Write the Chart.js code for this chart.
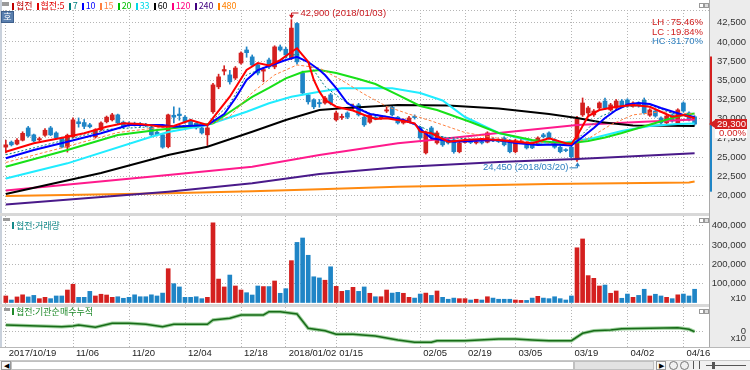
<!DOCTYPE html>
<html><head><meta charset="utf-8"><title>협전</title>
<script src="https://cdn.jsdelivr.net/npm/chart.js@4.4.1/dist/chart.umd.min.js"></script>
<style>
*{box-sizing:border-box}
html,body{margin:0;padding:0;width:750px;height:370px;overflow:hidden;background:#fff}
#root{position:relative;width:750px;height:370px;font-family:"Liberation Sans",Arial,sans-serif}
#root canvas{position:absolute;left:0}
.a{position:absolute;white-space:nowrap}
.k{font-family:"Noto Sans CJK KR","Liberation Sans",sans-serif;font-size:9px;line-height:10px}
.lg span{display:inline-block;margin-right:4px}
.lg i{display:inline-block;width:2px;height:7px;margin-right:2px;vertical-align:-1px}
</style></head><body>
<div id="root">
  <div class="a" style="left:709px;top:0;width:41px;height:347px;background:#ececec;border-left:1px solid #a9a9a9"></div>
  <div class="a" style="left:0;top:0;width:2px;height:347px;background:#c9d1dc"></div>
  <canvas id="c1" width="750" height="213" style="top:0"></canvas>
  <div class="a" style="left:0;top:213px;width:709px;height:3px;background:#d8d8d8"></div>
  <canvas id="c2" width="750" height="88" style="top:216px"></canvas>
  <div class="a" style="left:0;top:304px;width:709px;height:3px;background:#d8d8d8"></div>
  <canvas id="c3" width="750" height="54" style="top:307px"></canvas>
  <div class="a" style="left:0;top:347px;width:750px;height:1px;background:#b8b8b8"></div>

  <!-- top legend -->
  <div class="a" style="left:2px;top:2px;width:7px;height:4px;background:#9a9a9a"></div>
  <div class="a k lg" id="legend" style="left:12px;top:1px"></div>
  <div class="a" style="left:1px;top:11px;width:13px;height:12px;background:#5a7fae;border:1px solid #3d5f8c;color:#fff;font:9px 'Noto Sans CJK KR';line-height:10px;text-align:center">호</div>
  <div class="a" style="left:699px;top:3px;width:5px;height:5px;border:1px solid #999;background:#fff"></div>
  <div class="a" style="left:704px;top:3px;width:5px;height:5px;border:1px solid #999;background:#ddd"></div>

  <!-- volume pane label -->
  <div class="a" style="left:3px;top:218px;width:7px;height:3px;background:#9a9a9a"></div>
  <div class="a k" style="left:12px;top:221px;color:#138a8a"><i style="display:inline-block;width:2px;height:7px;background:#138a8a;margin-right:2px"></i>협전:거래량</div>
  <div class="a" style="left:699px;top:218px;width:5px;height:5px;border:1px solid #999;background:#fff"></div>
  <div class="a" style="left:704px;top:218px;width:5px;height:5px;border:1px solid #999;background:#ddd"></div>

  <!-- third pane label -->
  <div class="a" style="left:4px;top:308px;width:6px;height:3px;background:#9a9a9a"></div>
  <div class="a k" style="left:12px;top:307px;color:#1f8a2a"><i style="display:inline-block;width:2px;height:7px;background:#1f8a2a;margin-right:2px"></i>협전:기관순매수누적</div>
  <div class="a" style="left:699px;top:309px;width:5px;height:5px;border:1px solid #999;background:#fff"></div>
  <div class="a" style="left:704px;top:309px;width:5px;height:5px;border:1px solid #999;background:#ddd"></div>

  <!-- scrollbar -->
  <div class="a" style="left:0;top:360px;width:750px;height:10px;background:#f0f0f0;border-top:1px solid #c8c8c8"></div>
  <div class="a" style="left:1px;top:361px;width:10px;height:9px;border:1px solid #999;background:#fafafa;font-size:7px;line-height:7px;text-align:center">◀</div>
  <div class="a" style="left:11px;top:361px;width:563px;height:9px;background:#fff;border:1px solid #c0c0c0"></div>
  <div class="a" style="left:574px;top:361px;width:80px;height:9px;background:#e2e2e2;border:1px solid #c0c0c0"></div>
  <div class="a" style="left:656px;top:361px;width:10px;height:9px;border:1px solid #999;background:#fafafa;font-size:7px;line-height:7px;text-align:center">▶</div>
  <div class="a" style="left:669px;top:361px;width:9px;height:9px;border:1px solid #777;border-radius:5px"></div>
  <div class="a" style="left:680px;top:361px;width:9px;height:9px;border:1px solid #777;border-radius:5px"></div>
  <div class="a" style="left:693px;top:361px;width:7px;height:8px;border-left:1px solid #555;border-right:1px solid #555"></div>
  <div class="a" style="left:706px;top:365px;width:40px;height:1px;background:#555"></div>
  <div class="a" style="left:712px;top:362px;width:3px;height:7px;background:#555"></div>
</div>
<script>
// ---------- categories ----------
const tradingDays = {
  '2017/10':[19,20,23,24,25,26,27,30,31],
  '2017/11':[1,2,3,6,7,8,9,10,13,14,15,16,17,20,21,22,23,24,27,28,29,30],
  '2017/12':[1,4,5,6,7,8,11,12,13,14,15,18,19,20,21,22,26,27,28],
  '2018/01':[2,3,4,5,8,9,10,11,12,15,16,17,18,19,22,23,24,25,26,29,30,31],
  '2018/02':[1,2,5,6,7,8,9,12,13,14,19,20,21,22,23,26,27,28],
  '2018/03':[2,5,6,7,8,9,12,13,14,15,16,19,20,21,22,23,26,27,28,29,30],
  '2018/04':[2,3,4,5,6,9,10,11,12,13,16,17,18]
};
const dates = [];
for (const m in tradingDays) tradingDays[m].forEach(d => dates.push(m + '/' + String(d).padStart(2,'0')));
const labels = dates.concat(['']);            // one empty slot of right margin
const xTickDates = ['2017/10/19','2017/11/06','2017/11/20','2017/12/04','2017/12/18','2018/01/02','2018/01/15',
                    '2018/02/05','2018/02/19','2018/03/05','2018/03/19','2018/04/02','2018/04/16'];
const xTickText  = ['2017/10/19','11/06','11/20','12/04','12/18','2018/01/02','01/15','02/05','02/19','03/05','03/19','04/02','04/16'];
const priceTicks = [20000,22500,25000,27500,30000,32500,35000,37500,40000,42500];
const volTicks = [100000,200000,300000,400000];
const instTicks = [0];

// ---------- price (OHLC) ----------
const open = [26300,26950,26700,27200,28800,27900,27250,27850,28800,28150, 27500,26300,27600,29600,29500,29200,27650,28550,29600,29850,
 30500,29550,29400,29400,29250,29200,28900,28250,27900,26350, 30450,30600,30200,29800,29400,28800,27900,30900,34150,36200,
 35700,35300,37250,38950,38050,37000,36200,37650,36750,39350, 39050,37900,42400,35950,33100,32450,32100,32050,33100,29850,
 30150,30750,31400,31800,30200,29550,30200,30100,31000,31500, 30200,29450,29600,30300,28900,25550,28800,26850,27500,27250,
 27250,25700,26900,27000,26850,27000,26950,27350,27250,27500, 27200,25700,26950,26550,26850,26600,27900,28150,27250,26300,
 25950,26300,24650,30500,30750,30500,31400,32300,31150,31400, 32300,32450,31650,32050,32400,30450,31000,30100,29450,30500,
 29450,32050,30750,30250];
const high = [27200,27100,27400,28300,29000,28000,27600,28700,29000,28300, 27600,28000,30100,30100,29900,29400,28700,29600,30350,30700,
 30600,29700,29600,29550,29500,29400,29000,28400,28000,30600, 31550,31400,30400,29950,29500,28900,29000,34600,35800,36900,
 36300,36800,38700,39350,38300,37200,36700,37900,39500,39600, 39300,42900,42500,36200,33300,32600,32500,32900,33300,31000,
 30600,30900,31900,32000,30350,30600,30400,30400,31500,31700, 30300,30000,30300,30500,29000,28400,29000,28400,27700,27400,
 27400,27000,27400,27200,27200,27150,28300,27500,27400,27650, 27300,27350,27300,26700,27000,27650,28100,28300,27400,26450,
 26100,26450,30300,32700,31600,31200,32200,32700,32000,32500, 32500,32600,32200,32200,32700,31300,31200,30250,30500,30650,
 31300,32200,30900,30400];
const low = [25550,26450,26600,27100,27600,27000,27100,27700,27800,27400, 26200,25650,27500,28900,28700,28800,27500,28400,29450,29700,
 29350,28850,29000,29050,28950,28950,27800,27750,26150,26200, 29450,29800,29400,29100,28650,28000,26500,30700,33900,35700,
 34500,35100,37100,38000,36850,35700,34800,36500,36500,38800, 38000,37700,37100,33100,31900,31300,31500,31900,31800,29700,
 29900,30000,31200,30350,29000,29400,29850,29900,30800,30350, 29300,29300,29500,29950,27300,25400,27400,26700,26400,26700,
 25500,25550,26800,26750,26700,26700,26850,27000,26900,26450, 25550,25550,26800,26050,26100,26500,27500,27300,26150,25550,
 25700,24900,24450,30300,30500,30300,31200,31200,31000,31200, 31500,31500,31500,31500,30600,30300,30200,29300,29300,29550,
 29300,30850,29700,29150];
const close = [26600,26600,27200,28100,27750,27100,27400,28500,27900,27500, 26300,27850,29850,29350,29000,28950,28550,29450,30200,30500,
 29450,28950,29150,29200,29200,29100,27900,27900,26300,30500, 30200,30400,29550,29200,28800,28150,28800,34400,35450,36400,
 34800,36600,38550,38600,37000,35950,36400,36750,39350,38950, 38300,41800,37400,33350,32200,31550,31950,32700,32050,30750,
 30300,30200,31550,30500,29200,30500,30050,30250,31150,30500, 29450,29850,30100,30150,27500,28250,27600,28150,26600,26850,
 25700,26850,27200,26900,27000,26850,28150,27200,27050,26600, 25700,27200,27100,26200,26200,27500,27650,27500,26300,25700,
 25850,25050,30100,32050,31400,31000,32050,31400,31800,32300, 31650,31650,32050,31650,30750,31150,30350,29450,30350,29700,
 31150,31000,29850,29300];

// ---------- moving averages: [day index, value] ----------
const ma5 = [[0,25700],[5,26800],[11,27650],[14,28100],[18,28950],[21,29400],[24,29300],[28,28950],[30,29050],[33,29830],[36,29180],
 [40,32870],[43,36340],[45,37250],[47,36930],[49,37640],[51,38680],[52,39170],[53,38290],[54,37420],[55,35040],[56,33520],[57,32440],
 [59,31560],[62,31070],[64,30480],[66,29960],[68,30050],[71,29700],[73,29400],[74,28310],[76,28100],[79,27010],[82,27230],[85,27360],
 [88,27230],[91,27010],[94,26800],[97,27450],[100,26800],[101,26710],[102,27750],[103,29050],[104,30350],[106,31130],[109,31560],
 [112,31780],[115,31560],[117,30910],[119,30260],[121,30480],[123,30050]];
const ma7 = [[0,25300],[11,27300],[18,28600],[28,29050],[36,29150],[40,31900],[43,35700],[47,36900],[51,38300],[53,38350],[55,36300],
 [57,34200],[60,32500],[65,30700],[70,30000],[74,29000],[78,27600],[85,27250],[95,26700],[101,26550],[103,28000],[106,30200],[110,31500],
 [115,31800],[119,30700],[123,30100]];
const ma10 = [[0,24850],[5,25930],[11,27010],[17,28100],[22,29180],[28,29180],[30,28960],[36,29180],[39,30610],[41,32660],[43,35040],
 [45,36340],[47,36860],[50,37640],[52,38070],[54,37380],[56,36340],[57,35690],[59,33990],[61,32010],[63,31270],[65,30610],[68,30260],
 [71,29830],[73,29310],[76,27450],[80,27010],[85,27160],[88,27230],[91,26840],[95,26580],[98,26640],[101,26510],[103,27620],[105,28790],
 [107,30090],[109,31130],[111,31850],[113,32050],[115,31920],[117,31390],[119,30940],[121,30480],[123,30220]];
const ma15 = [[0,24300],[11,26400],[20,28200],[28,28900],[36,29150],[40,30300],[44,33400],[48,35700],[52,37000],[56,36600],[60,35000],
 [64,33200],[68,31600],[72,30600],[76,29700],[82,28200],[90,27200],[100,26650],[104,27400],[108,29200],[112,30500],[117,30900],[123,30600]];
const ma20 = [[0,23750],[11,25930],[20,27880],[27,28530],[35,29180],[37,29400],[40,30870],[44,32830],[47,34000],[50,35260],[53,36080],
 [56,36340],[59,35950],[63,35170],[66,34520],[70,33090],[74,31660],[77,31130],[80,30350],[83,29570],[88,28140],[94,27230],[98,26900],
 [101,26840],[104,27100],[107,27550],[110,28140],[113,28790],[116,29440],[119,30090],[121,30480],[123,30680]];
const ma33 = [[0,22220],[11,24190],[26,27660],[29,28270],[36,29180],[43,30910],[47,32010],[51,32870],[56,33520],[60,33960],[69,33960],
 [74,33350],[78,32370],[82,30220],[88,28140],[95,26900],[100,26900],[105,27490],[110,28400],[115,29050],[120,29310],[123,29380]];
const ma60 = [[0,20200],[17,22930],[29,25280],[36,26360],[44,28310],[50,29830],[56,31130],[60,31350],[70,31780],[79,31720],[88,31330],
 [97,30610],[102,30090],[106,29570],[112,29120],[123,29050]];
const ma120 = [[0,20640],[29,22670],[44,23750],[56,25280],[70,26800],[76,27230],[88,28140],[102,29180],[113,29570],[123,29900]];
const ma240 = [[0,18830],[29,20500],[44,21590],[56,22800],[70,23670],[88,24360],[102,24750],[113,25150],[123,25500]];
const ma480 = [[0,19940],[29,20290],[44,20550],[56,20810],[70,21150],[97,21500],[122,21700],[123,21830]];

// ---------- volume (x10 shares) ----------
const volume = [34000,13000,29000,40000,29000,37000,20000,27000,20000,34000, 34000,65000,95000,27000,27000,58000,34000,43000,39000,27000,
 30000,22000,27000,40000,30000,30000,40000,34000,49000,176000, 98000,81000,27000,27000,30000,20000,27000,415000,122000,81000,
 143000,86000,65000,51000,39000,86000,83000,83000,112000,48000, 72000,218000,313000,336000,246000,134000,128000,116000,186000,84000,
 58000,63000,79000,58000,81000,48000,30000,30000,65000,49000, 53000,48000,27000,23000,44000,49000,37000,60000,27000,17000,
 23000,20000,20000,13000,17000,13000,30000,23000,17000,17000, 17000,13000,11000,11000,23000,32000,23000,20000,30000,20000,
 13000,34000,285000,331000,140000,126000,86000,91000,48000,60000, 22000,44000,27000,37000,69000,34000,43000,34000,27000,20000,
 40000,44000,34000,69000];

// ---------- institutional cumulative net buying (x10), read points ----------
const instCum = [[0,6700],[10,5000],[12,5700],[13,6700],[16,4400],[19,8400],[22,8400],[25,7400],[28,5000],[30,7400],[36,7400],[37,11700],
 [40,13400],[42,16700],[46,16700],[47,20000],[49,20000],[52,17700],[54,3400],[57,1000],[59,-2600],[62,-2600],[66,-4300],[70,-8300],
 [73,-10600],[76,-10600],[77,-9000],[82,-9000],[88,-7300],[91,-7300],[94,-8300],[97,-9000],[101,-9000],[103,-1600],[105,1000],
 [108,1700],[110,3000],[120,4000],[122,2400],[123,0]];

// ---------- styles ----------
const RED = '#d4201f', BLUE = '#1f85c6';
const NUMFONT = '9.5px "Liberation Sans"';
const up = i => close[i] >= open[i];
const fmt = v => v.toLocaleString('en-US');
const tickIdx = new Set(xTickDates.map(d => labels.indexOf(d)));
const AXW = 47, RIGHT_EDGE = 746;

function xAxis(show){
  return {
    type:'category', labels, offset:true,
    grid:{ offset:false, drawTicks:false, lineWidth:1, color: c => tickIdx.has(c.index) ? '#b5b5b5' : 'rgba(0,0,0,0)' },
    border:{ display:false, dash:[1,2] },
    ticks:{ display:show, autoSkip:false, maxRotation:0, minRotation:0, align:'start', labelOffset:3, padding:1,
      font:{family:'Liberation Sans', size:9.5}, color:'#222',
      callback:(v,i) => tickIdx.has(i) ? xTickText[xTickDates.indexOf(labels[i])] : '' },
    afterFit: s => { s.height = show ? 14 : 0; }
  };
}
function yAxis(min, max, ticks){
  return {
    position:'right', min, max,
    afterBuildTicks: s => { s.ticks = ticks.map(v => ({value:v})); },
    afterFit: s => { s.width = AXW; },
    grid:{ drawTicks:false, color:'#b5b5b5', lineWidth:1 },
    border:{ display:false, dash:[1,2] },
    ticks:{ display:false }
  };
}
// tick labels of the y scale, right-aligned in the axis column
function drawYLabels(chart, unitY){
  const {ctx, scales:{y}} = chart;
  ctx.save(); ctx.font = NUMFONT; ctx.fillStyle = '#333'; ctx.textAlign = 'right'; ctx.textBaseline = 'middle';
  y.ticks.forEach(t => ctx.fillText(fmt(t.value), RIGHT_EDGE, y.getPixelForValue(t.value)));
  if (unitY !== undefined) ctx.fillText('x10', RIGHT_EDGE, unitY);
  ctx.restore();
}
const base = { responsive:false, animation:false, devicePixelRatio:1, events:[],
  plugins:{ legend:{display:false}, tooltip:{enabled:false} } };

// legend html
const maPeriods = [5,7,10,15,20,33,60,120,240,480];
const maColors = ['#ff0000','#008080','#0000ff','#ff8040','#18e018','#20ecff','#000000','#ff1a8c','#4a1a8a','#ff8a10'];
const maWidths = [2,1,2,1,2,2,2,2,2,2];
const maDash   = [[],[2,2],[],[3,2],[],[],[],[],[],[]];
const maData   = [ma5,ma7,ma10,ma15,ma20,ma33,ma60,ma120,ma240,ma480];
const legColors = ['#c00000','#e00000','#008080','#0000ff','#ff8040','#00c000','#00d8e8','#000000','#ff0080','#400080','#ff8000'];
const legTexts = ['협전','협전:5'].concat(maPeriods.slice(1).map(String));
document.getElementById('legend').innerHTML = legTexts.map((t,i) =>
  `<span style="color:${legColors[i]}"><i style="background:${legColors[i]}"></i>${t}</span>`).join('');

// ---------- chart 1 : price ----------
const deco1 = {
  id:'deco1',
  afterDatasetsDraw(chart){
    const {ctx, chartArea:a, scales:{x, y}} = chart;
    ctx.save();
    ctx.strokeStyle = '#b5b5b5'; ctx.setLineDash([1,2]); ctx.lineWidth = 1;
    ctx.beginPath(); ctx.moveTo(a.left, a.top + 0.5); ctx.lineTo(709, a.top + 0.5); ctx.stroke();
    ctx.setLineDash([]);
    let hi = 0, lo = 0;
    high.forEach((v,i) => { if (v > high[hi]) hi = i; });
    low.forEach((v,i) => { if (v < low[lo]) lo = i; });
    ctx.font = NUMFONT; ctx.textBaseline = 'middle';
    const hx = Math.round(x.getPixelForValue(hi)) + 0.5, hy = y.getPixelForValue(high[hi]);
    ctx.strokeStyle = ctx.fillStyle = '#c8161d';
    ctx.beginPath(); ctx.moveTo(hx, hy - 3); ctx.lineTo(hx, a.top + 3); ctx.lineTo(hx + 7, a.top + 3); ctx.stroke();
    ctx.beginPath(); ctx.moveTo(hx, hy - 1); ctx.lineTo(hx - 2.5, hy - 5); ctx.lineTo(hx + 2.5, hy - 5); ctx.fill();
    ctx.textAlign = 'left'; ctx.fillText(fmt(high[hi]) + ' (' + dates[hi] + ')', hx + 9, a.top + 3);
    const lx = Math.round(x.getPixelForValue(lo)) + 0.5, ly = y.getPixelForValue(low[lo]);
    ctx.strokeStyle = ctx.fillStyle = '#2f80c0';
    ctx.beginPath(); ctx.moveTo(lx, ly + 2); ctx.lineTo(lx, ly + 6.5); ctx.lineTo(lx - 8, ly + 6.5); ctx.stroke();
    ctx.beginPath(); ctx.moveTo(lx, ly + 1); ctx.lineTo(lx - 2.5, ly + 5); ctx.lineTo(lx + 2.5, ly + 5); ctx.fill();
    ctx.textAlign = 'right'; ctx.fillText(fmt(low[lo]) + ' (' + dates[lo] + ')', lx - 9, ly + 6.5);
    const last = close[close.length - 1];
    const rows = [['LH :', (high[hi]/low[lo]-1)*100, '#d02020'], ['LC :', (last/low[lo]-1)*100, '#d02020'], ['HC :', (last/high[hi]-1)*100, '#2f80c0']];
    rows.forEach((r, k) => {
      ctx.fillStyle = r[2]; const yy = 22.5 + k * 9.5;
      ctx.textAlign = 'left'; ctx.fillText(r[0], 652, yy);
      ctx.textAlign = 'right'; ctx.fillText(r[1].toFixed(2) + '%', 703, yy);
    });
    ctx.restore();
  },
  afterDraw(chart){
    drawYLabels(chart);
    const {ctx, scales:{y}} = chart;
    const last = close[close.length - 1];
    const ref = last;   // reference price for the daily limits (change 0.00%)
    const upLim = Math.round(ref * 1.3 / 50) * 50, dnLim = Math.round(ref * 0.7 / 50) * 50;
    const py = Math.round(y.getPixelForValue(last));
    ctx.save();
    ctx.fillStyle = RED; ctx.fillRect(710, y.getPixelForValue(upLim), 2, py - y.getPixelForValue(upLim));
    ctx.fillStyle = BLUE; ctx.fillRect(710, py + 1, 2, y.getPixelForValue(dnLim) - py - 1);
    ctx.fillStyle = '#d42020';
    ctx.beginPath(); ctx.moveTo(709, py); ctx.lineTo(715, py - 4); ctx.lineTo(715, py + 4); ctx.fill();
    ctx.fillRect(715, py - 5, 32, 10);
    ctx.fillStyle = '#fff'; ctx.fillRect(715, py + 5, 32, 9);
    ctx.font = NUMFONT; ctx.textBaseline = 'middle'; ctx.textAlign = 'right';
    ctx.fillStyle = '#fff'; ctx.fillText(fmt(last), 746, py);
    ctx.fillStyle = '#d42020'; ctx.fillText(((last/ref - 1)*100).toFixed(2) + '%', 746, py + 9.5);
    ctx.restore();
  }
};

const candleDatasets = [
  { type:'bar', label:'wick', data: dates.map((d,i) => [low[i], high[i]]), grouped:false, barThickness:1, minBarLength:1,
    backgroundColor: c => up(c.dataIndex) ? RED : BLUE, order:21 },
  { type:'bar', label:'body', data: dates.map((d,i) => [open[i], close[i]]), grouped:false, barThickness:4, minBarLength:1,
    backgroundColor: c => up(c.dataIndex) ? RED : BLUE, order:20 }
];
const maDatasets = maPeriods.map((p,k) => ({
  type:'line', label:'MA' + p, data: maData[k].map(([i,v]) => ({x: dates[i], y: v})),
  borderColor: maColors[k], borderWidth: maWidths[k], borderDash: maDash[k], pointRadius:0, tension:0, fill:false,
  order: [1,3,2,4,5,6,7,8,9,10][k]
}));

new Chart(document.getElementById('c1'), {
  type:'bar',
  data:{ labels, datasets: candleDatasets.concat(maDatasets) },
  options:Object.assign({}, base, {
    layout:{ padding:{ left:3, right:0, top:10, bottom:2 } },
    scales:{ x: xAxis(false), y: yAxis(45456 - 130.2*211, 45456 - 130.2*10, priceTicks) }
  }),
  plugins:[deco1]
});

// ---------- chart 2 : volume ----------
new Chart(document.getElementById('c2'), {
  type:'bar',
  data:{ labels, datasets:[{ label:'거래량', data: volume, barThickness:4, backgroundColor: c => up(c.dataIndex) ? RED : BLUE }] },
  options:Object.assign({}, base, {
    layout:{ padding:{ left:3, right:0, top:0, bottom:0 } },
    scales:{ x: xAxis(false), y: yAxis(-7812, 450520, volTicks) }
  }),
  plugins:[{ id:'vlab', afterDraw: c => drawYLabels(c, 82) }]
});

// ---------- chart 3 : institutional cumulative ----------
const instData = instCum.map(([i,v]) => ({x: dates[i], y: v}));
new Chart(document.getElementById('c3'), {
  type:'line',
  data:{ labels, datasets:[
    { label:'기관순매수누적', data: instData, borderColor:'#176b17', borderWidth:1.5, pointRadius:0, tension:0, order:1 },
    { label:'shadow', data: instData, borderColor:'#9fd19f', borderWidth:3.5, pointRadius:0, tension:0, order:2 }
  ]},
  options:Object.assign({}, base, {
    layout:{ padding:{ left:3, right:0, top:0, bottom:0 } },
    scales:{ x: xAxis(true), y: yAxis(-15300, 24700, instTicks) }
  }),
  plugins:[{ id:'ilab', afterDraw: c => drawYLabels(c, 31) }]
});
</script>
</body></html>
